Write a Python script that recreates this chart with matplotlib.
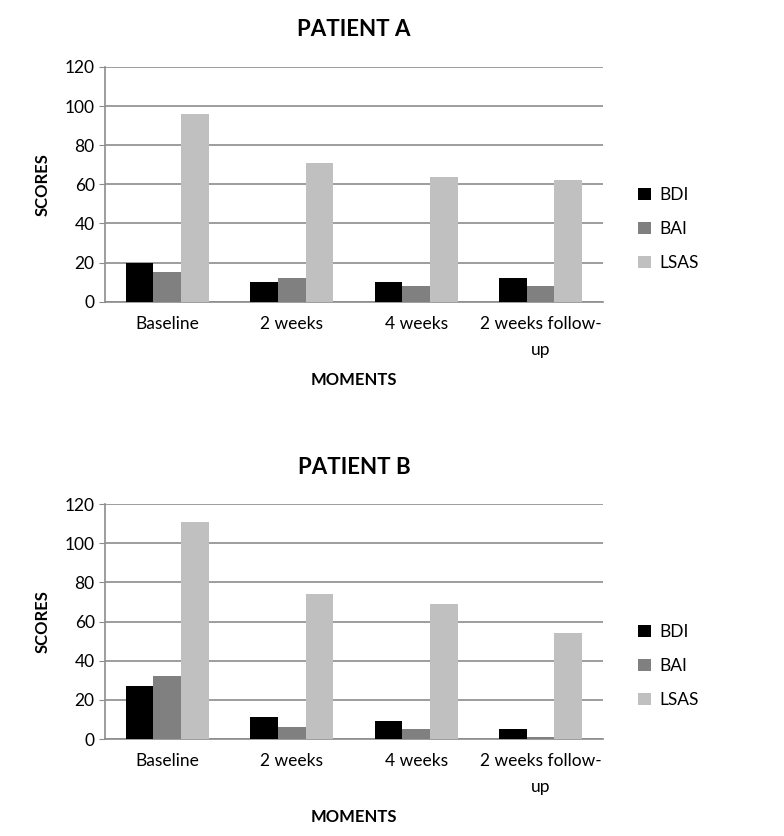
import numpy as np
import matplotlib.pyplot as plt

plt.rcParams['font.family'] = ['Lato', 'DejaVu Sans']

moments = ['Baseline', '2 weeks', '4 weeks', '2 weeks follow-\nup']
series = ['BDI', 'BAI', 'LSAS']
colors = ['#000000', '#808080', '#c0c0c0']

patient_a = {
    'BDI': [20, 10, 10, 12],
    'BAI': [15, 12, 8, 8],
    'LSAS': [96, 71, 64, 62],
}
patient_b = {
    'BDI': [27, 11, 9, 5],
    'BAI': [32, 6, 5, 1],
    'LSAS': [111, 74, 69, 54],
}

fig = plt.figure(figsize=(7.84, 8.36), dpi=100)
grid_color = '#8c8c8c'


def draw_panel(ax, data, title):
    x = np.arange(len(moments))
    w = 0.222
    for i, name in enumerate(series):
        ax.bar(x + (i - 1) * w, data[name], w, color=colors[i], label=name, zorder=3)
    ax.set_xlim(-0.5, len(moments) - 0.5)
    ax.set_ylim(0, 120)
    ax.set_yticks(range(0, 121, 20))
    ax.yaxis.grid(True, color=grid_color, linewidth=1.2, zorder=0)
    ax.set_xticks(x)
    ax.set_xticklabels(moments, fontsize=12.5, linespacing=1.8)
    ax.tick_params(axis='x', length=0, pad=10)
    ax.tick_params(axis='y', labelsize=12.5, length=4, color=grid_color, direction='out')
    for s in ['top', 'right']:
        ax.spines[s].set_visible(False)
    ax.spines['left'].set_color(grid_color)
    ax.spines['bottom'].set_color(grid_color)
    ax.spines['left'].set_linewidth(1.2)
    ax.spines['bottom'].set_linewidth(1.2)
    ax.set_title(title, fontsize=16, fontweight='bold', pad=22)
    ax.set_xlabel('MOMENTS', fontsize=12, fontweight='bold', labelpad=10)
    ax.set_ylabel('SCORES', fontsize=12, fontweight='bold', labelpad=10)
    ax.legend(loc='center left', bbox_to_anchor=(1.04, 0.31), frameon=False,
              fontsize=12.5, handlelength=0.7, handleheight=0.7,
              labelspacing=1.05, handletextpad=0.5)


ax1 = fig.add_axes([0.134, 0.639, 0.635, 0.281])
draw_panel(ax1, patient_a, 'PATIENT A')
ax2 = fig.add_axes([0.134, 0.116, 0.635, 0.281])
draw_panel(ax2, patient_b, 'PATIENT B')

fig.savefig('out.png', dpi=100)
